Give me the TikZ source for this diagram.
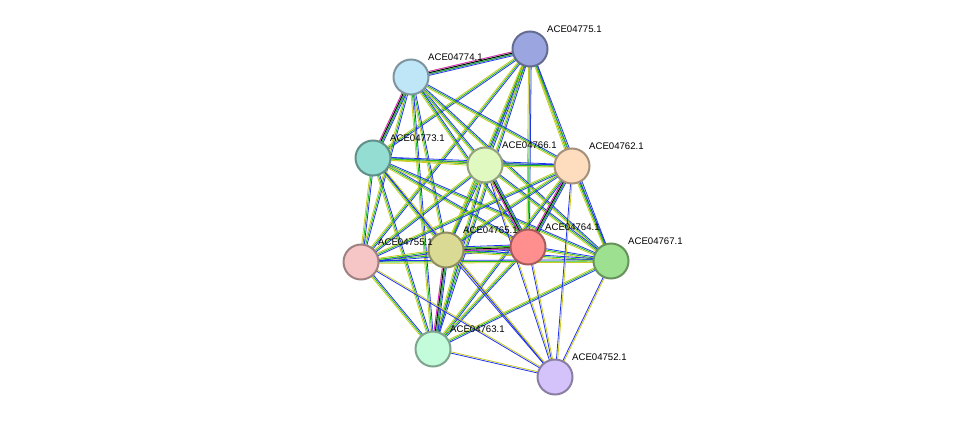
\documentclass[tikz,border=0pt]{standalone}
\usepackage{fontspec}
\setmainfont{Liberation Sans}
\usetikzlibrary{calc}

% one coloured strand of an edge, shifted sideways by #4
\newcommand{\strand}[4]{%
  \draw[#3, line width=0.8pt] ($(#1)!#4!90:(#2)$) -- ($(#2)!#4!-90:(#1)$);}
% an edge made of several strands
\newcommand{\lnk}[3]{%
  \foreach \col [count=\k] in {#3} {%
    \pgfmathsetmacro{\off}{(\k-2)*1.3}
    \strand{#1}{#2}{\col}{\off pt}}}

\begin{document}
\begin{tikzpicture}[x=1pt, y=-1pt,
    prot/.style={circle, draw=#1!65!black, fill=#1, line width=2pt,
                 minimum size=35pt, inner sep=0pt},
    lbl/.style={font=\fontsize{9.6}{11}\selectfont, anchor=south west, inner sep=1pt}
]
\definecolor{sg}{HTML}{22BB22}
\definecolor{sb}{HTML}{2233EE}
\definecolor{sy}{HTML}{C8CC22}
\definecolor{sm}{HTML}{DD22DD}
\definecolor{cA}{HTML}{9BA6E0}
\definecolor{cB}{HTML}{BFE6F7}
\definecolor{cC}{HTML}{94DDD3}
\definecolor{cD}{HTML}{E0F9C0}
\definecolor{cE}{HTML}{FDDDBE}
\definecolor{cF}{HTML}{FF8E8E}
\definecolor{cG}{HTML}{DADA94}
\definecolor{cH}{HTML}{F6C6C6}
\definecolor{cI}{HTML}{9DE08F}
\definecolor{cJ}{HTML}{C2FCDA}
\definecolor{cK}{HTML}{D4C3FB}

\useasboundingbox (0,0) rectangle (976,423);

\coordinate (n775) at (530,49);
\coordinate (n774) at (411,77);
\coordinate (n773) at (373,158);
\coordinate (n766) at (485,165);
\coordinate (n762) at (572,166);
\coordinate (n764) at (528,247);
\coordinate (n765) at (446,250);
\coordinate (n755) at (361,262);
\coordinate (n767) at (611,261);
\coordinate (n763) at (433,349);
\coordinate (n752) at (555,377);

% edges
\foreach \a/\b in {775/774,775/773,775/766,775/762,775/764,775/765,775/755,775/767,775/763,
                   774/773,774/766,774/762,774/764,774/765,774/755,774/767,774/763,
                   773/766,773/762,773/764,773/765,773/755,773/767,773/763,
                   766/762,766/764,766/765,766/755,766/767,766/763,
                   762/764,762/765,762/755,762/767,762/763,
                   764/765,764/755,764/767,764/763,
                   765/755,765/767,765/763,
                   755/767,755/763,767/763}
  {\lnk{n\a}{n\b}{sy,sg,sb}}
\foreach \a/\b in {775/774,774/773,766/764,765/764,762/764,765/763}
  {\lnk{n\a}{n\b}{sm,black,sg,sb}}
\foreach \a/\b in {752/764,752/767,752/762,752/766,752/765,752/763,752/755,752/773}
  {\lnk{n\a}{n\b}{sy,sb}}

% proteins
\foreach \n/\c in {775/cA,774/cB,773/cC,766/cD,762/cE,764/cF,765/cG,755/cH,767/cI,763/cJ,752/cK}
  \node[prot=\c] (p\n) at (n\n) {};

\foreach \n in {775,774,773,766,762,764,765,755,767,763,752}
  \node[lbl] at ($(n\n)+(16,-15)$) {ACE04\n.1};
\end{tikzpicture}
\end{document}
